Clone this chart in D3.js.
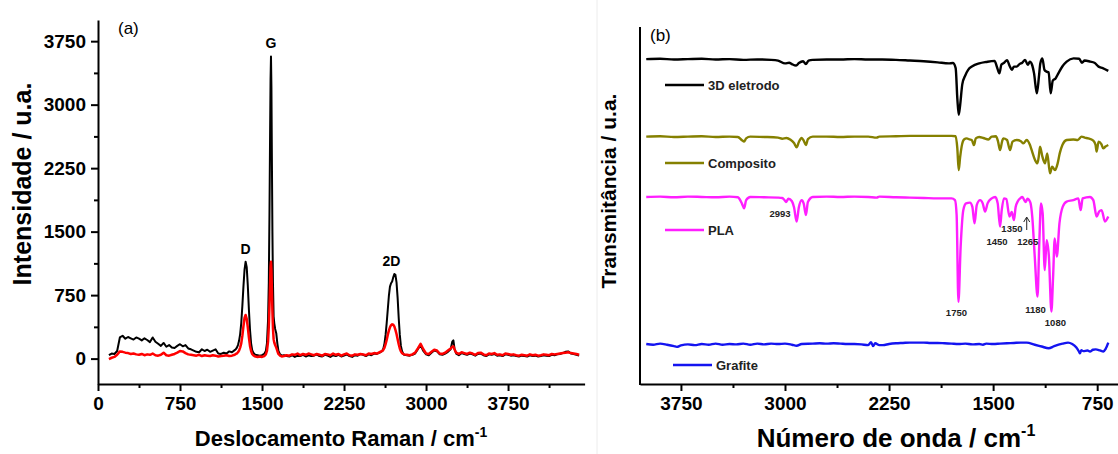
<!DOCTYPE html>
<html>
<head>
<meta charset="utf-8">
<script src="https://cdn.jsdelivr.net/npm/d3@7"></script>
<style>
  html, body { margin: 0; padding: 0; background: #fff; }
  svg { display: block; font-family: "Liberation Sans", Arial, sans-serif; }
  .axis path, .axis line { stroke: #000; stroke-width: 2; }
  .axis text { font-size: 19px; font-weight: bold; fill: #000; font-family: "Liberation Sans", Arial, sans-serif; }
</style>
</head>
<body>
<svg id="chart" width="1118" height="454"></svg>
<script>
// ---------- (a) Raman spectra: [Raman shift (cm-1), intensity (a.u.)] ----------
const ramanBlack = [
  [100,40],[125,60],[150,55],[175,90],[200,250],[225,270],[250,235],[275,255],[300,240],[325,225],
  [350,250],[375,235],[400,215],[425,240],[450,220],[475,195],[500,250],[525,200],[550,175],[575,150],
  [600,185],[625,140],[650,160],[675,130],[700,125],[725,150],[750,170],[775,145],[800,160],[825,120],
  [850,110],[875,95],[900,80],[925,75],[950,110],[975,90],[1000,105],[1025,80],[1050,95],[1075,110],
  [1100,60],[1125,55],[1150,70],[1175,60],[1200,85],[1225,75],[1250,100],
  [1260,110],[1270,130],[1280,160],[1290,210],[1300,290],[1310,420],[1320,620],[1330,850],[1340,1050],
  [1350,1145],[1360,1080],[1370,860],[1380,580],[1390,340],[1400,180],[1410,100],[1420,70],[1430,55],[1440,45],
  [1460,40],[1480,35],[1500,40],[1520,55],[1535,90],[1545,180],[1555,450],[1562,900],[1568,1700],[1574,2700],
  [1578,3300],[1582,3570],[1586,3200],[1590,2400],[1595,1500],[1600,900],[1606,500],[1612,420],[1620,350],
  [1630,300],[1640,180],[1650,90],[1665,50],[1680,35],[1700,40],
  [1725,30],[1750,25],[1775,40],[1800,20],[1825,35],[1850,30],[1875,45],[1900,25],[1925,40],[1950,30],
  [1975,35],[2000,50],[2025,30],[2050,25],[2075,45],[2100,35],[2125,20],[2150,40],[2175,30],[2200,45],
  [2225,25],[2250,35],[2275,50],[2300,30],[2325,20],[2350,40],[2375,35],[2400,55],[2425,45],[2450,30],
  [2475,50],[2500,40],[2525,60],[2550,55],[2575,70],
  [2600,90],[2610,120],[2620,180],[2630,280],[2640,420],[2650,580],[2660,740],[2670,850],[2680,890],
  [2690,910],[2700,960],[2710,1000],[2720,990],[2730,900],[2740,720],[2750,480],[2760,280],[2770,150],
  [2780,90],[2790,60],[2800,45],
  [2825,40],[2850,35],[2875,45],[2900,60],[2925,110],[2950,160],[2975,90],[3000,50],[3025,40],[3050,70],
  [3075,95],[3100,85],[3125,50],[3150,45],[3175,60],[3200,80],[3225,110],[3240,200],[3250,215],[3260,120],
  [3275,60],[3300,40],[3325,65],[3350,55],[3375,45],[3400,60],[3425,50],[3450,35],[3475,55],[3500,60],
  [3525,40],[3550,30],[3575,50],[3600,45],[3625,55],[3650,35],[3675,40],[3700,30],[3725,50],[3750,45],
  [3775,35],[3800,40],[3825,30],[3850,25],[3875,35],[3900,30],[3925,25],[3950,40],[3975,30],[4000,35],
  [4025,25],[4050,30],[4075,40],[4100,35],[4125,30],[4150,45],[4175,40],[4200,50],[4225,55],[4250,65],
  [4275,80],[4300,85],[4325,60],[4350,55],[4375,45],[4400,35]
];
const ramanRed = [
  [100,-5],[125,10],[150,20],[175,45],[200,85],[225,80],[250,70],[275,65],[300,55],[325,60],
  [350,50],[375,45],[400,55],[425,40],[450,50],[475,45],[500,60],[525,40],[550,35],[575,45],
  [600,70],[625,40],[650,35],[675,45],[700,55],[725,70],[750,90],[775,85],[800,65],[825,50],
  [850,45],[875,40],[900,35],[925,45],[950,30],[975,40],[1000,35],[1025,30],[1050,40],[1075,35],
  [1100,25],[1125,30],[1150,35],[1175,40],[1200,30],[1225,35],[1250,45],
  [1260,55],[1270,60],[1280,75],[1290,95],[1300,130],[1310,180],[1320,270],[1330,380],[1340,480],
  [1350,515],[1360,470],[1370,370],[1380,250],[1390,150],[1400,90],[1410,55],[1420,40],[1430,30],[1440,25],
  [1460,20],[1480,25],[1500,20],[1520,30],[1535,50],[1545,90],[1555,200],[1562,380],[1568,620],[1574,900],
  [1578,1080],[1582,1145],[1586,1050],[1590,820],[1595,560],[1600,360],[1606,230],[1612,190],[1620,160],
  [1630,130],[1640,90],[1650,55],[1665,35],[1680,25],[1700,30],
  [1725,40],[1750,35],[1775,50],[1800,45],[1825,60],[1850,40],[1875,55],[1900,45],[1925,60],[1950,50],
  [1975,40],[2000,55],[2025,45],[2050,35],[2075,55],[2100,50],[2125,40],[2150,60],[2175,45],[2200,55],
  [2225,35],[2250,50],[2275,60],[2300,40],[2325,35],[2350,50],[2375,45],[2400,55],[2425,50],[2450,40],
  [2475,60],[2500,55],[2525,65],[2550,60],[2575,75],
  [2600,90],[2610,105],[2620,130],[2630,170],[2640,220],[2650,280],[2660,330],[2670,370],[2680,395],
  [2690,405],[2700,400],[2710,380],[2720,340],[2730,290],[2740,230],[2750,170],[2760,120],[2770,85],
  [2780,65],[2790,55],[2800,50],
  [2825,45],[2850,40],[2875,50],[2900,70],[2925,120],[2950,175],[2975,110],[3000,60],[3025,55],[3050,80],
  [3075,105],[3100,95],[3125,60],[3150,55],[3175,70],[3200,95],[3225,120],[3240,140],[3250,145],[3260,110],
  [3275,70],[3300,55],[3325,75],[3350,65],[3375,55],[3400,70],[3425,60],[3450,45],[3475,65],[3500,70],
  [3525,50],[3550,40],[3575,60],[3600,55],[3625,65],[3650,45],[3675,50],[3700,40],[3725,60],[3750,55],
  [3775,45],[3800,50],[3825,40],[3850,35],[3875,45],[3900,40],[3925,35],[3950,50],[3975,40],[4000,45],
  [4025,35],[4050,40],[4075,50],[4100,45],[4125,40],[4150,55],[4175,50],[4200,55],[4225,60],[4250,65],
  [4275,70],[4300,75],[4325,65],[4350,60],[4375,55],[4400,45]
];
const ramanBands = [
  { name: "D",  shift: 1350, intensity: 1145 },
  { name: "G",  shift: 1582, intensity: 3570 },
  { name: "2D", shift: 2710, intensity: 1000 }
];
const ramanTicks = [0, 750, 1500, 2250, 3000, 3750];
const ramanMinorTicks = [375, 1125, 1875, 2625, 3375, 4125];
const intensityTicks = [0, 750, 1500, 2250, 3000, 3750];
const intensityMinorTicks = [375, 1125, 1875, 2625, 3375];

// ---------- (b) FTIR spectra: [wavenumber (cm-1), transmittance (a.u., offset)] ----------
const ftirElectrode = [
  [4000,91.0],[3900,91.1],[3800,90.9],[3700,91.0],[3600,91.1],[3500,90.9],[3400,91.0],[3300,90.8],
  [3200,90.9],[3100,90.8],[3050,90.6],[3000,89.8],[2970,90.0],[2950,89.6],[2920,89.2],[2900,89.9],
  [2870,90.4],[2850,89.6],[2830,90.6],[2800,90.8],[2700,90.9],[2600,90.9],[2500,91.0],[2400,90.9],
  [2300,90.9],[2200,90.8],[2100,90.6],[2000,90.4],[1900,90.1],[1820,89.8],[1790,89.9],[1770,88.5],
  [1758,80.0],[1748,75.4],[1738,78.0],[1722,84.0],[1700,86.5],[1680,88.0],[1650,89.0],[1600,89.8],
  [1550,90.2],[1490,90.5],[1470,88.5],[1455,87.0],[1440,89.5],[1420,90.0],[1400,90.7],[1380,89.0],
  [1365,88.0],[1350,88.9],[1330,88.9],[1310,89.6],[1290,90.0],[1270,90.8],[1250,89.4],[1235,90.3],
  [1220,89.5],[1205,87.0],[1185,81.4],[1170,86.0],[1160,89.8],[1145,91.2],[1130,88.0],[1115,87.5],
  [1100,87.3],[1085,81.4],[1070,85.0],[1050,85.6],[1030,87.0],[1000,89.0],[970,90.3],[920,91.2],
  [880,91.1],[860,90.0],[840,90.6],[800,90.3],[770,90.0],[740,88.9],[710,88.5],[670,87.7]
];
const ftirComposite = [
  [4000,69.3],[3900,69.4],[3800,69.2],[3700,69.3],[3600,69.4],[3500,69.2],[3400,69.3],[3340,69.2],
  [3310,68.3],[3295,67.9],[3280,68.8],[3250,69.3],[3150,69.2],[3050,69.0],[3020,68.7],[2990,68.9],
  [2960,68.4],[2935,67.5],[2916,66.3],[2900,67.8],[2880,68.9],[2865,68.2],[2849,66.9],[2835,68.6],
  [2800,69.3],[2700,69.3],[2600,69.2],[2500,69.3],[2400,69.3],[2340,69.0],[2320,69.3],[2200,69.4],
  [2100,69.5],[2000,69.5],[1900,69.5],[1800,69.5],[1770,69.4],[1758,66.0],[1748,59.9],[1738,63.5],
  [1727,66.5],[1710,68.5],[1690,68.8],[1670,68.5],[1654,68.35],[1638,66.9],[1625,68.8],[1600,69.2],
  [1570,68.9],[1534,68.5],[1510,69.3],[1480,69.4],[1465,68.0],[1450,65.5],[1435,68.0],[1427,68.8],
  [1400,68.35],[1378,65.5],[1360,67.9],[1330,68.35],[1300,68.0],[1282,67.4],[1258,68.35],[1235,67.0],
  [1222,65.5],[1198,62.75],[1181,61.8],[1170,64.0],[1162,66.5],[1145,63.7],[1126,61.8],[1110,64.6],
  [1090,59.0],[1075,60.9],[1054,59.9],[1035,61.8],[1020,64.6],[1000,67.0],[970,68.35],[922,68.5],
  [890,68.35],[862,69.28],[840,69.0],[814,68.8],[778,68.16],[762,67.0],[754,65.1],[740,67.9],
  [720,67.2],[706,66.0],[690,66.5],[670,66.95]
];
const ftirPLA = [
  [4000,52.4],[3900,52.5],[3800,52.3],[3700,52.5],[3600,52.4],[3500,52.3],[3400,52.5],[3340,52.3],
  [3310,50.5],[3295,49.2],[3280,51.5],[3250,52.4],[3150,52.3],[3050,52.2],[3020,52.1],[3005,51.6],
  [2993,51.0],[2975,51.9],[2950,51.2],[2935,49.5],[2916,45.5],[2900,49.5],[2880,51.5],[2865,50.5],
  [2849,47.3],[2835,51.0],[2800,52.4],[2700,52.5],[2600,52.4],[2500,52.5],[2400,52.4],[2340,52.2],
  [2320,52.5],[2200,52.3],[2100,52.2],[2000,52.1],[1900,52.0],[1800,52.0],[1775,51.5],[1763,47.3],
  [1750,23.0],[1734,38.5],[1715,48.7],[1695,50.6],[1667,50.8],[1650,49.7],[1634,45.0],[1618,50.1],
  [1594,51.5],[1575,50.6],[1558,48.3],[1540,50.6],[1510,52.0],[1485,52.4],[1467,50.6],[1450,44.1],
  [1438,48.7],[1422,52.0],[1405,51.8],[1382,46.9],[1366,48.2],[1350,45.9],[1338,49.5],[1322,51.2],
  [1305,52.0],[1290,52.4],[1277,51.6],[1265,51.0],[1252,51.9],[1240,51.5],[1230,50.6],[1218,46.9],
  [1200,35.7],[1180,24.5],[1168,38.5],[1155,50.6],[1143,47.8],[1128,31.9],[1114,40.3],[1098,35.7],
  [1080,20.3],[1068,29.8],[1056,40.8],[1041,35.7],[1022,45.0],[998,49.7],[970,51.1],[922,51.5],
  [886,52.0],[869,48.7],[855,52.0],[802,52.4],[778,51.5],[754,46.9],[736,48.3],[718,48.7],
  [694,45.5],[670,46.9]
];
const ftirGraphite = [
  [4000,11.2],[3950,11.0],[3900,11.3],[3850,11.0],[3800,10.6],[3780,10.4],[3750,10.8],[3700,11.1],
  [3650,10.9],[3600,11.2],[3550,11.0],[3500,11.3],[3450,11.0],[3400,11.2],[3350,11.1],[3300,11.3],
  [3250,11.0],[3200,11.3],[3150,11.1],[3100,11.3],[3050,11.2],[3000,11.3],[2950,11.0],[2916,10.7],
  [2880,11.2],[2800,11.3],[2750,11.4],[2700,11.3],[2650,11.4],[2600,11.3],[2550,11.2],[2500,11.2],
  [2450,11.1],[2400,10.9],[2380,11.7],[2365,10.6],[2350,11.4],[2320,10.9],[2294,10.9],[2250,11.2],
  [2200,11.4],[2150,11.5],[2100,11.6],[2050,11.6],[2000,11.6],[1950,11.5],[1900,11.5],[1850,11.4],
  [1800,11.3],[1750,11.2],[1700,11.3],[1650,11.1],[1600,11.2],[1573,11.0],[1550,11.3],[1500,11.2],
  [1450,11.3],[1400,11.4],[1350,11.5],[1300,11.6],[1258,11.6],[1200,11.0],[1150,10.5],[1100,10.0],
  [1060,10.6],[1000,11.3],[960,11.6],[930,11.2],[900,10.2],[880,9.0],[874,8.6],[865,9.5],
  [850,9.2],[820,9.4],[802,9.1],[780,9.6],[760,9.7],[730,9.4],[705,9.1],[690,9.8],[670,11.6]
];
const ftirSeries = [
  { name: "3D eletrodo", color: "#000000", data: ftirElectrode, legendY: 85 },
  { name: "Composito",   color: "#858000", data: ftirComposite, legendY: 163 },
  { name: "PLA",         color: "#ff1eff", data: ftirPLA,       legendY: 230 },
  { name: "Grafite",     color: "#1414f0", data: ftirGraphite,  legendY: 365 }
];
const plaBandLabels = [
  { wn: 2993, label: "2993", dx: -6, y: 217 },
  { wn: 1750, label: "1750", dx: -2, y: 316 },
  { wn: 1450, label: "1450", dx: -3, y: 245 },
  { wn: 1350, label: "1350", dx: -2, y: 232 },
  { wn: 1265, label: "1265", dx: 2,  y: 245 },
  { wn: 1180, label: "1180", dx: -2, y: 313 },
  { wn: 1080, label: "1080", dx: 4,  y: 326 }
];
const wavenumberTicks = [3750, 3000, 2250, 1500, 750];
const wavenumberMinorTicks = [3375, 2625, 1875, 1125];

const svg = d3.select("#chart");
const font = '"Liberation Sans", Arial, sans-serif';

// faint border between the two panels
svg.append("line").attr("x1", 597).attr("x2", 597).attr("y1", 0).attr("y2", 454)
  .attr("stroke", "#ececec").attr("stroke-width", 1);

// ================= Panel (a) =================
const xA = d3.scaleLinear().domain([0, 4450]).range([98, 584.6]);
const yA = d3.scaleLinear().domain([-300, 4000]).range([384, 20]);

const gA = svg.append("g");

const lineA = d3.line().x(d => xA(d[0])).y(d => yA(d[1]));
gA.append("path").datum(ramanBlack).attr("d", lineA)
  .attr("fill", "none").attr("stroke", "#000").attr("stroke-width", 2).attr("stroke-linejoin", "round");
gA.append("path").datum(ramanRed).attr("d", lineA)
  .attr("fill", "none").attr("stroke", "#ff0000").attr("stroke-width", 2.5).attr("stroke-linejoin", "round");

// axes
gA.append("g").attr("class", "axis").attr("transform", "translate(0,384)")
  .call(d3.axisBottom(xA).tickValues(ramanMinorTicks).tickSize(4).tickSizeOuter(0).tickFormat(""))
  .select(".domain").remove();
gA.append("g").attr("class", "axis").attr("transform", "translate(0,384)")
  .call(d3.axisBottom(xA).tickValues(ramanTicks).tickSize(7).tickSizeOuter(0).tickPadding(6).tickFormat(d3.format("d")));
gA.append("g").attr("class", "axis").attr("transform", "translate(98,0)")
  .call(d3.axisLeft(yA).tickValues(intensityMinorTicks).tickSize(4).tickSizeOuter(0).tickFormat(""))
  .select(".domain").remove();
gA.append("g").attr("class", "axis").attr("transform", "translate(98,0)")
  .call(d3.axisLeft(yA).tickValues(intensityTicks).tickSize(7).tickSizeOuter(0).tickPadding(5).tickFormat(d3.format("d")));

// band labels
gA.selectAll("text.band").data(ramanBands).join("text")
  .attr("class", "band")
  .attr("x", d => xA(d.shift) - (d.name === "2D" ? 3 : 0))
  .attr("y", d => yA(d.intensity) - 8)
  .attr("text-anchor", "middle")
  .attr("font-family", font).attr("font-weight", "bold").attr("font-size", 14)
  .text(d => d.name);

gA.append("text").attr("x", 118).attr("y", 34)
  .attr("font-family", font).attr("font-size", 17).text("(a)");

// axis titles
gA.append("text").attr("transform", "translate(31,184) rotate(-90)")
  .attr("text-anchor", "middle").attr("font-family", font).attr("font-weight", "bold").attr("font-size", 25)
  .text("Intensidade / u.a.");
const tA = gA.append("text").attr("x", 341).attr("y", 446)
  .attr("text-anchor", "middle").attr("font-family", font).attr("font-weight", "bold").attr("font-size", 22);
tA.append("tspan").text("Deslocamento Raman / cm");
tA.append("tspan").attr("font-size", 14).attr("dy", -9).text("-1");

// ================= Panel (b) =================
const xB = d3.scaleLinear().domain([4045, 600]).range([640, 1118]);
const yB = d3.scaleLinear().domain([0, 100]).range([384, 27]);
const gB = svg.append("g");

const lineB = d3.line().x(d => xB(d[0])).y(d => yB(d[1])).curve(d3.curveMonotoneX);
gB.selectAll("path.ftir").data(ftirSeries).join("path")
  .attr("class", "ftir")
  .attr("d", d => lineB(d.data))
  .attr("fill", "none").attr("stroke", d => d.color).attr("stroke-width", 2.4)
  .attr("stroke-linejoin", "round");

// legend entries
ftirSeries.forEach(s => {
  const x0 = s.name === "Grafite" ? 673 : 665;
  gB.append("line").attr("x1", x0).attr("x2", x0 + 39).attr("y1", s.legendY).attr("y2", s.legendY)
    .attr("stroke", s.color).attr("stroke-width", 2.4);
  gB.append("text").attr("x", x0 + 43).attr("y", s.legendY + 5)
    .attr("font-family", font).attr("font-weight", "bold").attr("font-size", 13).attr("fill", "#222")
    .text(s.name);
});

// PLA band labels
gB.selectAll("text.wn").data(plaBandLabels).join("text")
  .attr("class", "wn")
  .attr("x", d => xB(d.wn) + d.dx).attr("y", d => d.y)
  .attr("text-anchor", "middle")
  .attr("font-family", font).attr("font-weight", "bold").attr("font-size", 9.5).attr("fill", "#222")
  .text(d => d.label);
// arrow marking the 1265 band
const ax = xB(1265) + 1;
gB.append("line").attr("x1", ax).attr("x2", ax).attr("y1", 230).attr("y2", 218)
  .attr("stroke", "#222").attr("stroke-width", 1);
gB.append("path").attr("d", `M${ax - 3},${222} L${ax},${217} L${ax + 3},${222}`)
  .attr("fill", "none").attr("stroke", "#222").attr("stroke-width", 1);

// axes
gB.append("g").attr("class", "axis").attr("transform", "translate(0,384)")
  .call(d3.axisBottom(xB).tickValues(wavenumberMinorTicks).tickSize(4).tickSizeOuter(0).tickFormat(""))
  .select(".domain").remove();
gB.append("g").attr("class", "axis").attr("transform", "translate(0,384)")
  .call(d3.axisBottom(xB).tickValues(wavenumberTicks).tickSize(7).tickSizeOuter(0).tickPadding(6).tickFormat(d3.format("d")));
gB.append("line").attr("x1", 640).attr("x2", 640).attr("y1", 27).attr("y2", 385)
  .attr("stroke", "#000").attr("stroke-width", 2);

gB.append("text").attr("x", 650).attr("y", 41)
  .attr("font-family", font).attr("font-size", 17).text("(b)");

gB.append("text").attr("transform", "translate(616,191) rotate(-90)")
  .attr("text-anchor", "middle").attr("font-family", font).attr("font-weight", "bold").attr("font-size", 21)
  .text("Transmitância / u.a.");
const tB = gB.append("text").attr("x", 896).attr("y", 447)
  .attr("text-anchor", "middle").attr("font-family", font).attr("font-weight", "bold").attr("font-size", 26);
tB.append("tspan").text("Número de onda / cm");
tB.append("tspan").attr("font-size", 16).attr("dy", -11).text("-1");
</script>
</body>
</html>
